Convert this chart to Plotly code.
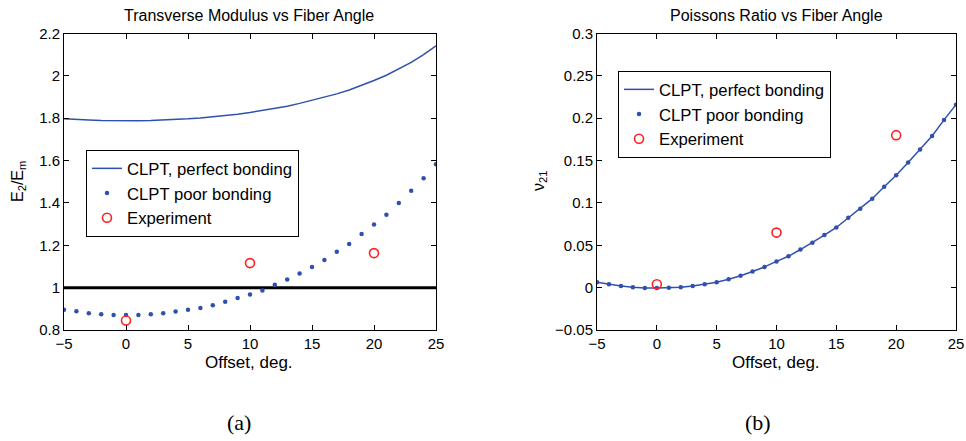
import plotly.graph_objects as go

# ---- data ----
offset = list(range(-5, 26))

e2_perfect = [1.797, 1.793, 1.791, 1.789, 1.788, 1.788, 1.788, 1.789, 1.791, 1.794,
              1.797, 1.801, 1.806, 1.812, 1.819, 1.827, 1.836, 1.846, 1.857, 1.870,
              1.884, 1.899, 1.915, 1.933, 1.955, 1.978, 2.003, 2.032, 2.064, 2.100, 2.142]

e2_poor = [0.896, 0.888, 0.879, 0.874, 0.871, 0.871, 0.871, 0.874, 0.879, 0.887,
           0.896, 0.904, 0.917, 0.933, 0.951, 0.968, 0.987, 1.014, 1.038, 1.067,
           1.097, 1.131, 1.169, 1.206, 1.253, 1.298, 1.344, 1.400, 1.457, 1.516, 1.583]

nu_perfect = [0.0063, 0.0039, 0.0020, 0.0005, -0.0005, -0.0005, 0.0000, 0.0005, 0.0020, 0.0040,
              0.0063, 0.0100, 0.0140, 0.0190, 0.0245, 0.0310, 0.0370, 0.0450, 0.0530, 0.0620,
              0.0710, 0.0825, 0.0930, 0.1050, 0.1190, 0.1326, 0.1477, 0.1630, 0.1790, 0.1980, 0.2160]

nu_poor = [0.0063, 0.0039, 0.0020, 0.0005, -0.0005, -0.0005, 0.0000, 0.0005, 0.0020, 0.0040,
           0.0063, 0.0100, 0.0140, 0.0190, 0.0245, 0.0310, 0.0370, 0.0450, 0.0530, 0.0620,
           0.0710, 0.0825, 0.0930, 0.1050, 0.1190, 0.1326, 0.1477, 0.1630, 0.1790, 0.1980, 0.2160]

exp_offset = [0, 10, 20]
e2_exp = [0.845, 1.116, 1.163]
nu_exp = [0.004, 0.065, 0.180]

ref_x = [-5, 25]
ref_y = [1.0, 1.0]

names = ["CLPT, perfect bonding", "CLPT poor bonding", "Experiment"]

BLUE = "#3050ae"
RED = "#ff2020"
FONT = "Liberation Sans"

fig = go.Figure()

# left panel
fig.add_trace(go.Scatter(x=ref_x, y=ref_y, mode="lines", line=dict(color="black", width=3),
                         showlegend=False, xaxis="x", yaxis="y", hoverinfo="skip"))
fig.add_trace(go.Scatter(x=offset, y=e2_perfect, mode="lines", name=names[0],
                         line=dict(color=BLUE, width=1.5), xaxis="x", yaxis="y", legend="legend"))
fig.add_trace(go.Scatter(x=offset, y=e2_poor, mode="markers", name=names[1],
                         marker=dict(color=BLUE, size=4.5), xaxis="x", yaxis="y", legend="legend"))
fig.add_trace(go.Scatter(x=exp_offset, y=e2_exp, mode="markers", name=names[2],
                         marker=dict(symbol="circle-open", color=RED, size=9, line=dict(width=1.6)),
                         xaxis="x", yaxis="y", legend="legend"))

# right panel
fig.add_trace(go.Scatter(x=offset, y=nu_perfect, mode="lines", name=names[0],
                         line=dict(color=BLUE, width=1.5), xaxis="x2", yaxis="y2", legend="legend2"))
fig.add_trace(go.Scatter(x=offset, y=nu_poor, mode="markers", name=names[1],
                         marker=dict(color=BLUE, size=4.5), xaxis="x2", yaxis="y2", legend="legend2"))
fig.add_trace(go.Scatter(x=exp_offset, y=nu_exp, mode="markers", name=names[2],
                         marker=dict(symbol="circle-open", color=RED, size=9, line=dict(width=1.6)),
                         xaxis="x2", yaxis="y2", legend="legend2"))

W, H = 966, 441
def px_x(p):
    return p / W
def px_y(p):
    return 1 - p / H

axis_common = dict(showline=True, linecolor="black", linewidth=1, mirror="ticks",
                   ticks="inside", ticklen=5, tickcolor="black", showgrid=False,
                   zeroline=False, automargin=False, ticklabeloverflow="allow",
                   tickfont=dict(family=FONT, size=15, color="black"))

ydom = [px_y(330), px_y(33.5)]

fig.update_layout(
    template="none",
    width=W, height=H,
    margin=dict(l=0, r=0, t=0, b=0, pad=0, autoexpand=False),
    paper_bgcolor="white", plot_bgcolor="white",
    font=dict(family=FONT, color="black"),
    xaxis=dict(domain=[px_x(64), px_x(436)], range=[-5, 25], dtick=5, anchor="y", **axis_common),
    yaxis=dict(domain=ydom, range=[0.8, 2.2], dtick=0.2, anchor="x", **axis_common),
    xaxis2=dict(domain=[px_x(597), px_x(956)], range=[-5, 25], dtick=5, anchor="y2", **axis_common),
    yaxis2=dict(domain=ydom, range=[-0.05, 0.3], dtick=0.05, anchor="x2", **axis_common),
    legend=dict(x=px_x(86), y=px_y(150), xanchor="left", yanchor="top",
                bgcolor="white", bordercolor="black", borderwidth=1,
                font=dict(family=FONT, size=16.7, color="black"), tracegroupgap=0),
    legend2=dict(x=px_x(618), y=px_y(71), xanchor="left", yanchor="top",
                 bgcolor="white", bordercolor="black", borderwidth=1,
                 font=dict(family=FONT, size=16.7, color="black"), tracegroupgap=0),
    showlegend=True,
)

annots = [
    dict(text="Transverse Modulus vs Fiber Angle", x=px_x(249), y=px_y(15), size=16, angle=0, fam=FONT),
    dict(text="Poissons Ratio vs Fiber Angle", x=px_x(776), y=px_y(15), size=16, angle=0, fam=FONT),
    dict(text="Offset, deg.", x=px_x(249), y=px_y(362), size=17, angle=0, fam=FONT),
    dict(text="Offset, deg.", x=px_x(776), y=px_y(362), size=17, angle=0, fam=FONT),
    dict(text="E<sub>2</sub>/E<sub>m</sub>", x=px_x(18), y=px_y(182), size=16, angle=-90, fam=FONT),
    dict(text="ν<sub>21</sub>", x=px_x(540), y=px_y(181), size=16, angle=-90, fam=FONT),
    dict(text="(a)", x=px_x(239), y=px_y(422), size=22, angle=0, fam="Liberation Serif"),
    dict(text="(b)", x=px_x(758), y=px_y(422), size=22, angle=0, fam="Liberation Serif"),
]
for a in annots:
    fig.add_annotation(text=a["text"], x=a["x"], y=a["y"], xref="paper", yref="paper",
                       xanchor="center", yanchor="middle", showarrow=False, textangle=a["angle"],
                       font=dict(family=a["fam"], size=a["size"], color="black"))

fig.write_html(
    "out.html",
    config={"displayModeBar": False},
    post_script="document.body.style.margin='0px';document.body.style.overflow='hidden';",
)
